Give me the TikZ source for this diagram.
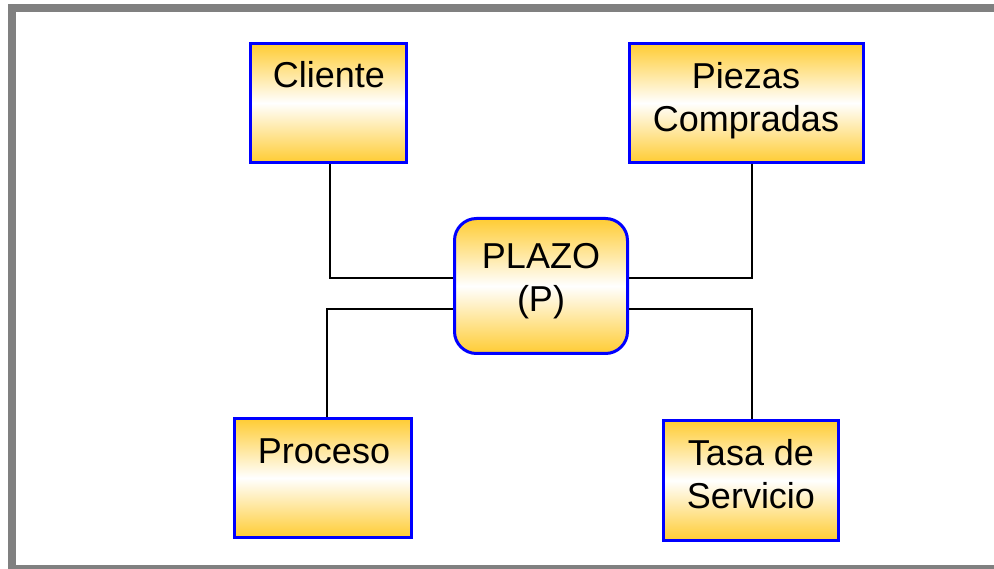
\documentclass[tikz,border=0pt]{standalone}
\usepackage{fontspec}
\setmainfont{Liberation Sans}
\definecolor{boxgold}{RGB}{255,204,51}
\definecolor{framegray}{RGB}{128,128,128}
\begin{document}
\begin{tikzpicture}[x=1pt,y=-1pt,
  box/.style={draw=blue, line width=3pt, top color=boxgold, bottom color=boxgold,
    middle color=white, inner sep=0pt},
  lbl/.style={font=\fontsize{36}{43}\selectfont, align=center, anchor=base, inner sep=0pt},
  link/.style={draw=black, line width=2pt}]
\useasboundingbox (0,0) rectangle (994,569);
\clip (0,0) rectangle (994,569);
% outer frame
\draw[framegray, line width=8pt] (12,8) rectangle (1002,569);

% boxes
\node[box, minimum width=156pt, minimum height=119pt] (cliente) at (328.5,103) {};
\node[box, minimum width=234pt, minimum height=119pt] (piezas) at (746.5,103) {};
\node[box, rounded corners=22pt, minimum width=173pt, minimum height=135pt] (plazo) at (541,286) {};
\node[box, minimum width=177pt, minimum height=119pt] (proceso) at (323,478) {};
\node[box, minimum width=175pt, minimum height=120pt] (tasa) at (751,480.5) {};

% labels (base anchor sits on the last line)
\node[lbl] (tcliente) at (329,88) {Cliente};
\node[lbl] (tpiezas) at (746,132) {Piezas\\Compradas};
\node[lbl] (tplazo) at (541,312) {PLAZO\\(P)};
\node[lbl] (tproceso) at (324,463) {Proceso};
\node[lbl] (ttasa) at (751,508) {Tasa de\\Servicio};

% connectors
\draw[link] ([xshift=1.5pt]cliente.south) |- ([yshift=8pt]plazo.west);
\draw[link] ([xshift=5.5pt]piezas.south) |- ([yshift=8pt]plazo.east);
\draw[link] ([xshift=4pt]proceso.north) |- ([yshift=-23pt]plazo.west);
\draw[link] ([xshift=1pt]tasa.north) |- ([yshift=-23pt]plazo.east);
\end{tikzpicture}
\end{document}
